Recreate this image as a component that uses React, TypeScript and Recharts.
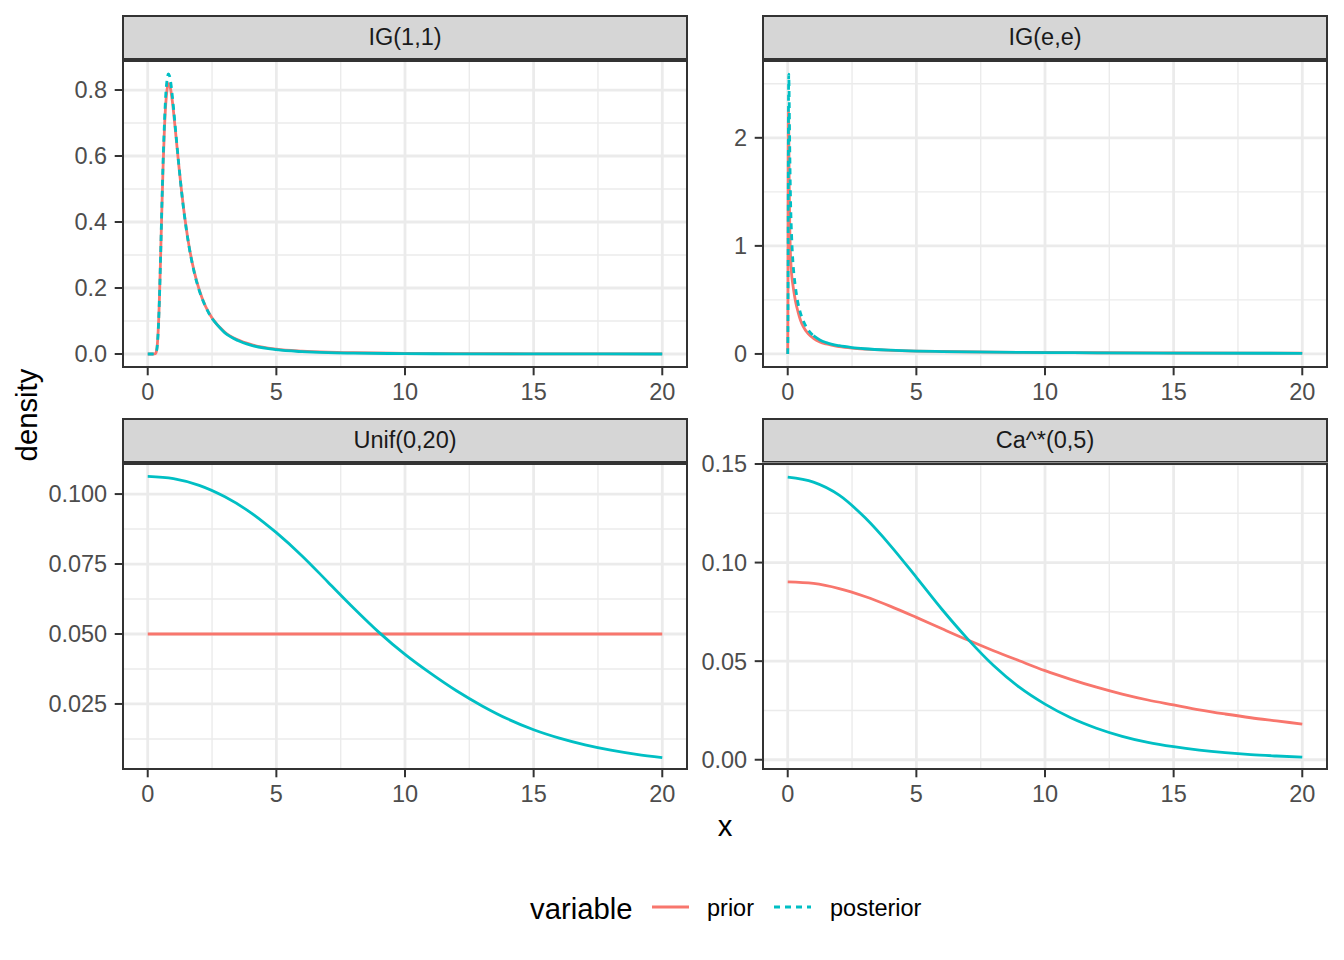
import React from 'react';
import { LineChart, Line, XAxis, YAxis, CartesianGrid } from 'recharts';

const FONT = '"Liberation Sans", Arial, Helvetica, sans-serif';
const PRIOR = '#F8766D';
const POSTERIOR = '#00BFC4';

const xTicks = [0, 5, 10, 15, 20];
const xMinor = [2.5, 7.5, 12.5, 17.5];

// IG(1,1)
const ig11X = [0, 0.1, 0.2, 0.3, 0.35, 0.4, 0.45, 0.5, 0.55, 0.6, 0.65, 0.7, 0.75, 0.8, 0.85, 0.9, 0.95, 1.0, 1.1, 1.2, 1.3, 1.4, 1.6, 1.8, 2.0, 2.25, 2.5, 3, 3.5, 4, 5, 6, 7, 8, 10, 12, 15, 20];
const ig11Prior = [0, 0, 0, 0.001, 0.013, 0.06, 0.157, 0.293, 0.441, 0.576, 0.683, 0.757, 0.801, 0.819, 0.816, 0.798, 0.77, 0.736, 0.658, 0.578, 0.504, 0.438, 0.33, 0.252, 0.195, 0.144, 0.109, 0.066, 0.043, 0.029, 0.015, 0.009, 0.0057, 0.0039, 0.002, 0.0012, 0.0006, 0.00025];
const ig11Post = [0, 0, 0, 0.001, 0.012, 0.058, 0.155, 0.295, 0.45, 0.59, 0.7, 0.785, 0.83, 0.849, 0.842, 0.82, 0.787, 0.748, 0.664, 0.58, 0.503, 0.436, 0.328, 0.25, 0.193, 0.143, 0.107, 0.064, 0.041, 0.027, 0.013, 0.007, 0.004, 0.0027, 0.0012, 0.0006, 0.0003, 0.0001];

// IG(e,e)
const igeX = [0, 0.01, 0.02, 0.03, 0.04, 0.05, 0.06, 0.07, 0.08, 0.1, 0.12, 0.15, 0.2, 0.25, 0.3, 0.4, 0.5, 0.6, 0.8, 1.0, 1.25, 1.5, 2, 2.5, 3, 4, 5, 6, 8, 10, 12, 15, 20];
const igePrior = [0, 0.6, 1.9, 2.25, 2.1, 1.8, 1.55, 1.35, 1.17, 0.97, 0.85, 0.74, 0.64, 0.56, 0.49, 0.39, 0.31, 0.255, 0.185, 0.145, 0.112, 0.092, 0.068, 0.054, 0.045, 0.034, 0.027, 0.0225, 0.017, 0.0135, 0.011, 0.009, 0.0068];
const igePost = [0, 0.3, 1.4, 2.3, 2.59, 2.5, 2.3, 2.08, 1.88, 1.55, 1.32, 1.1, 0.86, 0.72, 0.62, 0.47, 0.375, 0.31, 0.22, 0.17, 0.13, 0.105, 0.076, 0.059, 0.048, 0.035, 0.027, 0.0222, 0.0165, 0.013, 0.0105, 0.0083, 0.006];

// Unif(0,20)
const unifX = [0, 1, 2, 3, 4, 5, 6, 7, 8, 9, 10, 11, 12, 13, 14, 15, 16, 17, 18, 19, 20];
const unifPrior = [0.05, 0.05, 0.05, 0.05, 0.05, 0.05, 0.05, 0.05, 0.05, 0.05, 0.05, 0.05, 0.05, 0.05, 0.05, 0.05, 0.05, 0.05, 0.05, 0.05, 0.05];
const unifPost = [0.1063, 0.1055, 0.1031, 0.099, 0.0934, 0.0862, 0.0779, 0.0686, 0.0593, 0.0505, 0.0427, 0.0359, 0.0297, 0.0243, 0.0196, 0.0158, 0.0128, 0.0104, 0.0085, 0.007, 0.0058];

// Ca^*(0,5)
const caX = [0, 1, 2, 3, 4, 5, 6, 7, 8, 9, 10, 11, 12, 13, 14, 15, 16, 17, 18, 19, 20];
const caPrior = [0.0902, 0.0894, 0.0868, 0.0828, 0.0778, 0.0722, 0.0664, 0.0607, 0.0553, 0.0502, 0.0452, 0.0408, 0.0368, 0.0333, 0.0303, 0.0278, 0.0253, 0.0232, 0.0213, 0.0197, 0.0181];
const caPost = [0.1433, 0.1408, 0.1342, 0.1228, 0.1085, 0.0925, 0.0762, 0.0612, 0.0478, 0.0368, 0.0282, 0.0213, 0.016, 0.0119, 0.0088, 0.0066, 0.0049, 0.0036, 0.0026, 0.0019, 0.0013];

// the dash pattern is only visible on the steep part of the posterior; the flat tail reads as solid
const toRows = (xs: number[], prior: number[], post: number[], dashUntil: number) =>
  xs.map((x, i) => ({
    x,
    prior: prior[i],
    postDash: x <= dashUntil ? post[i] : undefined,
    postSolid: x >= dashUntil ? post[i] : undefined,
  }));

const PLOT_W = 566;
const Y_AXIS_W = 82;
const TOP_PAD = 15;

interface PanelProps {
  title: string;
  data: { x: number; prior: number; postDash?: number; postSolid?: number }[];
  left: number;
  top: number;
  plotH: number;
  yDomain: [number, number];
  yTicks: number[];
  yMinor: number[];
  fmt: (v: number) => string;
}

const Panel: React.FC<PanelProps> = ({ title, data, left, top, plotH, yDomain, yTicks, yMinor, fmt }) => {
  const tickStyle = { fill: '#4D4D4D', fontSize: 23.5, fontFamily: FONT };
  return (
    <>
      <div
        style={{
          position: 'absolute', left, top: top - 45, width: PLOT_W, height: 45,
          boxSizing: 'border-box', border: '2px solid #333333', background: '#D6D6D6',
          display: 'flex', alignItems: 'center', justifyContent: 'center',
          fontSize: 23.5, color: '#1A1A1A',
        }}
      >
        {title}
      </div>
      <div style={{ position: 'absolute', left: left - Y_AXIS_W, top: top - TOP_PAD }}>
        <LineChart
          width={Y_AXIS_W + PLOT_W + 10}
          height={plotH + 50 + TOP_PAD}
          data={data}
          margin={{ top: TOP_PAD, right: 10, bottom: 0, left: 0 }}
        >
          <CartesianGrid stroke="#EBEBEB" strokeWidth={1.4} horizontalValues={yMinor} verticalValues={xMinor} />
          <CartesianGrid stroke="#EBEBEB" strokeWidth={2.8} horizontalValues={yTicks} verticalValues={xTicks} />
          <XAxis
            dataKey="x" type="number" domain={[-1, 21]} ticks={xTicks} allowDataOverflow
            axisLine={false} tickLine={{ stroke: '#333333', strokeWidth: 2 }} tickSize={7.3} tickMargin={8}
            tick={tickStyle} height={50} interval={0}
          />
          <YAxis
            type="number" domain={yDomain} ticks={yTicks} allowDataOverflow width={Y_AXIS_W}
            axisLine={false} tickLine={{ stroke: '#333333', strokeWidth: 2 }} tickSize={7.3} tickMargin={7.5}
            tick={tickStyle} tickFormatter={fmt} interval={0}
          />
          <Line type="monotone" dataKey="prior" stroke={PRIOR} strokeWidth={2.8} dot={false} isAnimationActive={false} />
          <Line
            type="monotone" dataKey="postDash" stroke={POSTERIOR} strokeWidth={2.8} dot={false}
            strokeDasharray="6 5" isAnimationActive={false}
          />
          <Line
            type="monotone" dataKey="postSolid" stroke={POSTERIOR} strokeWidth={2.8} dot={false}
            isAnimationActive={false}
          />
        </LineChart>
      </div>
      <div
        style={{
          position: 'absolute', left, top, width: PLOT_W, height: plotH,
          boxSizing: 'border-box', border: '2px solid #333333', pointerEvents: 'none',
        }}
      />
    </>
  );
};

const App: React.FC = () => {
  return (
    <div style={{ position: 'absolute', left: 0, top: 0, width: 1344, height: 960, background: '#FFFFFF', fontFamily: FONT, overflow: 'hidden' }}>
      <Panel
        title="IG(1,1)" data={toRows(ig11X, ig11Prior, ig11Post, 2.5)} left={122} top={60} plotH={308}
        yDomain={[-0.0424, 0.891]} yTicks={[0, 0.2, 0.4, 0.6, 0.8]} yMinor={[0.1, 0.3, 0.5, 0.7]}
        fmt={(v) => v.toFixed(1)}
      />
      <Panel
        title="IG(e,e)" data={toRows(igeX, igePrior, igePost, 1)} left={762} top={60} plotH={308}
        yDomain={[-0.13, 2.72]} yTicks={[0, 1, 2]} yMinor={[0.5, 1.5, 2.5]}
        fmt={(v) => v.toFixed(0)}
      />
      <Panel
        title="Unif(0,20)" data={toRows(unifX, unifPrior, unifPost, -1)} left={122} top={463} plotH={307}
        yDomain={[0.0014, 0.1111]} yTicks={[0.025, 0.05, 0.075, 0.1]} yMinor={[0.0125, 0.0375, 0.0625, 0.0875]}
        fmt={(v) => v.toFixed(3)}
      />
      <Panel
        title="Ca^*(0,5)" data={toRows(caX, caPrior, caPost, -1)} left={762} top={463} plotH={307}
        yDomain={[-0.0052, 0.1505]} yTicks={[0, 0.05, 0.1, 0.15]} yMinor={[0.025, 0.075, 0.125]}
        fmt={(v) => v.toFixed(2)}
      />

      {/* axis titles */}
      <div style={{ position: 'absolute', left: 725, top: 826, transform: 'translate(-50%, -50%)', fontSize: 29.3, lineHeight: 1, color: '#000' }}>x</div>
      <div style={{ position: 'absolute', left: 27, top: 415, transform: 'translate(-50%, -50%) rotate(-90deg)', fontSize: 29.3, lineHeight: 1, color: '#000', whiteSpace: 'nowrap' }}>density</div>

      {/* legend */}
      <div style={{ position: 'absolute', left: 530, top: 909, transform: 'translateY(-50%)', fontSize: 29.3, lineHeight: 1, color: '#000' }}>variable</div>
      <svg style={{ position: 'absolute', left: 652, top: 900 }} width={37} height={14}>
        <line x1={0} y1={7} x2={37} y2={7} stroke={PRIOR} strokeWidth={2.8} />
      </svg>
      <div style={{ position: 'absolute', left: 707, top: 909, transform: 'translateY(-50%)', fontSize: 23.5, lineHeight: 1, color: '#000' }}>prior</div>
      <svg style={{ position: 'absolute', left: 774, top: 900 }} width={37} height={14}>
        <line x1={0} y1={7} x2={37} y2={7} stroke={POSTERIOR} strokeWidth={2.8} strokeDasharray="6 5" />
      </svg>
      <div style={{ position: 'absolute', left: 830, top: 909, transform: 'translateY(-50%)', fontSize: 23.5, lineHeight: 1, color: '#000' }}>posterior</div>
    </div>
  );
};

export default App;
